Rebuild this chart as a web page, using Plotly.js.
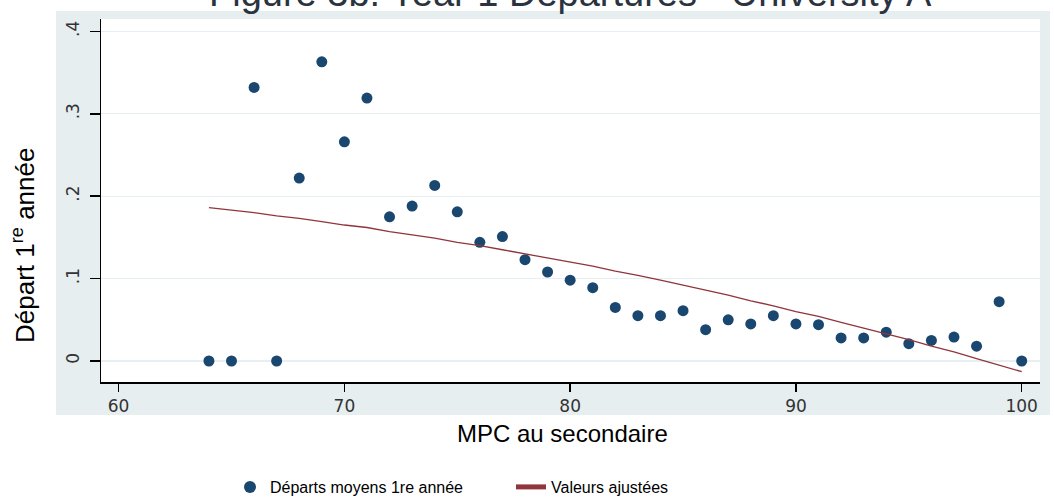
<!DOCTYPE html>
<html>
<head>
<meta charset="utf-8">
<script src="https://cdn.plot.ly/plotly-3.0.1.min.js"></script>
<style>html,body{margin:0;padding:0;background:#fff;}#chart{width:1054px;height:498px;}</style>
</head>
<body>
<div id="chart"></div>
<script>
// ---- data ----
const mpc = [64,65,66,67,68,69,70,71,72,73,74,75,76,77,78,79,80,81,82,83,84,85,86,87,88,89,90,91,92,93,94,95,96,97,98,99,100];
const departsMoyens = [0,0,0.332,0,0.222,0.363,0.266,0.319,0.175,0.188,0.213,0.181,0.144,0.151,0.123,0.108,
  0.098,0.089,0.065,0.055,0.055,0.061,0.038,0.050,0.045,0.055,0.045,0.044,0.028,0.028,0.035,0.021,0.025,0.029,0.018,0.072,0];
const valeursAjustees = [0.186,0.183,0.180,0.176,0.173,0.169,0.165,0.162,0.157,0.153,0.149,0.144,0.140,0.135,0.130,0.125,
  0.120,0.115,0.109,0.104,0.098,0.092,0.086,0.080,0.073,0.067,0.060,0.054,0.047,0.040,0.033,0.026,0.018,0.011,0.003,-0.005,-0.013];
const xTickVals = [60,70,80,90,100];
const xTickText = ['60','70','80','90','100'];
const yTickVals = [0,0.1,0.2,0.3,0.4];
const yTickText = ['0','.1','.2','.3','.4'];
const titleText = 'Figure 3b: Year 1 Departures - University A';
const xTitle = 'MPC au secondaire';
const yTitle = 'Départ 1<sup>re</sup> année';
const seriesNames = ['Départs moyens 1re année','Valeurs ajustées'];

const traces = [
  {x: mpc, y: departsMoyens, type: 'scatter', mode: 'markers', name: seriesNames[0],
   marker: {color: '#1a476f', size: 11, line: {width: 0}}},
  {x: mpc, y: valeursAjustees, type: 'scatter', mode: 'lines', name: seriesNames[1],
   line: {color: '#90353b', width: 1.3}}
];

const layout = {
  width: 1054, height: 498,
  margin: {l: 101, r: 14, t: 19, b: 116, pad: 0},
  paper_bgcolor: '#ffffff',
  plot_bgcolor: 'rgba(0,0,0,0)',
  font: {family: 'Liberation Sans, Arial, sans-serif', color: '#000'},
  showlegend: true,
  xaxis: {
    range: [59.22, 100.81], tickvals: xTickVals, ticktext: xTickText, automargin: false,
    showgrid: false, zeroline: false, showline: true, linecolor: '#000', linewidth: 1.5,
    ticks: 'outside', ticklen: 8, tickwidth: 1.5, tickcolor: '#000',
    tickfont: {family: 'DejaVu Sans, sans-serif', size: 17, color: '#333'}
  },
  yaxis: {
    range: [-0.0255, 0.415], tickvals: yTickVals, ticktext: yTickText, tickangle: -90, automargin: false,
    showgrid: true, gridcolor: '#e6eff1', gridwidth: 1.2, zeroline: false,
    showline: true, linecolor: '#000', linewidth: 1.5,
    ticks: 'outside', ticklen: 10, tickwidth: 1.5, tickcolor: '#000',
    ticklabelstandoff: 4,
    tickfont: {family: 'DejaVu Sans, sans-serif', size: 17, color: '#333'}
  },
  shapes: [
    {type: 'rect', xref: 'paper', yref: 'paper', x0: -0.0479, x1: 1.0106, y0: -0.0909, y1: 1.022,
     fillcolor: '#e6eef0', line: {width: 0}, layer: 'below'},
    {type: 'rect', xref: 'paper', yref: 'paper', x0: 0, x1: 1, y0: 0, y1: 1,
     fillcolor: '#ffffff', line: {width: 0}, layer: 'below'}
  ],
  annotations: [
    {text: titleText, xref: 'paper', yref: 'paper', x: 0.5, y: 1.071, xanchor: 'center', yanchor: 'middle',
     showarrow: false, font: {size: 38, color: '#2a3340'}},
    {text: yTitle, xref: 'paper', yref: 'paper', x: -0.082, y: 0.3747, xanchor: 'center', yanchor: 'middle',
     textangle: -90, showarrow: false, font: {size: 26, color: '#000'}},
    {text: xTitle, xref: 'paper', yref: 'paper', x: 0.491, y: -0.1405, xanchor: 'center', yanchor: 'middle',
     showarrow: false, font: {size: 24, color: '#000'}}
  ],
  legend: {
    orientation: 'h', xref: 'container', yref: 'container', x: 230 / 1054, y: 11 / 498,
    xanchor: 'left', yanchor: 'middle', bgcolor: 'rgba(0,0,0,0)', borderwidth: 0,
    entrywidth: 236, itemsizing: 'constant',
    font: {family: 'Liberation Sans, Arial, sans-serif', size: 16, color: '#000'}
  }
};

Plotly.newPlot('chart', traces, layout, {displayModeBar: false, staticPlot: true});
</script>
</body>
</html>
